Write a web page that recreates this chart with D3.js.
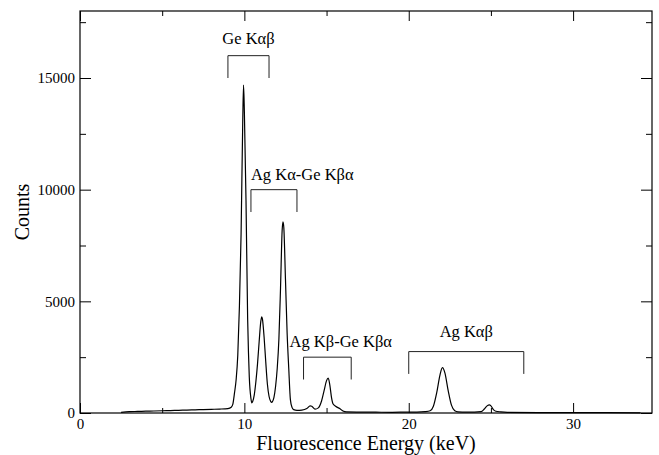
<!DOCTYPE html>
<html>
<head>
<meta charset="utf-8">
<script src="https://cdn.jsdelivr.net/npm/d3@7"></script>
<style>
  body { margin: 0; background: #fff; }
  svg { display: block; }
  svg text { font-family: "Liberation Serif", "Times New Roman", Times, "DejaVu Serif", serif; fill: #000; }
</style>
</head>
<body>
<svg width="659" height="455"></svg>
<script>
// spectrum (keV, counts)
const energy = [2.5, 3.0, 3.5, 4.0, 4.5, 5.0, 5.5, 6.0, 6.5, 7.0, 7.5, 8.0, 8.5, 9.0, 9.2, 9.3,
  9.4, 9.5, 9.6, 9.7, 9.8, 9.9, 9.95, 10.0, 10.1, 10.2, 10.25, 10.3, 10.4, 10.45,
  10.5, 10.6, 10.7, 10.8, 10.9, 11.0, 11.06, 11.1, 11.2, 11.3, 11.4, 11.5, 11.6, 11.67,
  11.7, 11.8, 11.9, 12.0, 12.1, 12.2, 12.3, 12.35, 12.4, 12.5, 12.6, 12.7, 12.8, 12.9, 13.0,
  13.2, 13.5, 13.8, 14.0, 14.1, 14.3, 14.5, 14.7, 14.85, 15.0, 15.1, 15.2, 15.3, 15.4, 15.55, 15.8, 16.0, 16.2,
  17.0, 18.0, 19.0, 20.0, 20.5, 21.0, 21.3, 21.5, 21.7, 21.9, 22.05, 22.2, 22.4, 22.6, 22.8, 23.0,
  23.5, 24.0, 24.4, 24.6, 24.8, 24.9, 25.0, 25.15, 25.3, 25.6, 26.0, 28.0, 30.0, 32.0, 34.1];
const counts = [30, 60, 70, 80, 90, 100, 110, 120, 130, 140, 155, 165, 175, 200, 260, 400,
  900, 1500, 2600, 4800, 8000, 13000, 14680, 13500, 9500, 4200, 2700, 1600, 650, 450,
  500, 800, 1400, 2200, 3200, 4100, 4310, 4200, 3400, 2300, 1300, 750, 520, 480,
  500, 700, 1200, 2000, 3300, 5600, 8200, 8560, 8300, 6000, 3600, 2000, 600, 250, 150,
  120, 130, 200, 320, 300, 170, 230, 550, 1000, 1450, 1560, 1250, 700, 400, 300, 200, 90, 50,
  40, 35, 30, 40, 40, 60, 100, 300, 900, 1700, 2030, 1800, 1000, 350, 100, 50,
  40, 40, 60, 180, 340, 360, 320, 150, 80, 50, 30, 20, 20, 15, 10];

const xMajor = [0, 10, 20, 30];
const xMinor = [5, 15, 25];
const yMajor = [0, 5000, 10000, 15000];
const yMinor = [2500, 7500, 12500, 17500];

// peak group labels with bracket spans (keV) and heights (counts)
const bracketLabels = ["Ge Kαβ", "Ag Kα-Ge Kβα", "Ag Kβ-Ge Kβα", "Ag Kαβ"];
const bracketFrom = [9.0, 10.4, 13.6, 20.0];
const bracketTo = [11.5, 13.2, 16.5, 27.0];
const bracketTop = [16000, 10000, 2500, 2750];
const bracketBottom = [15000, 9000, 1500, 1750];
const labelAnchor = ["middle", "start", "start", "middle"];
const labelAtE = [10.25, 10.4, 12.75, 23.5];
const labelAtC = [16520, 10430, 2950, 3400];

const serif = '"Liberation Serif", "Times New Roman", Times, "DejaVu Serif", serif';

const svg = d3.select("svg");
const m = { left: 80, right: 652, top: 11, bottom: 413 };

const x = d3.scaleLinear().domain([0, 34.8]).range([m.left, m.right]);
const y = d3.scaleLinear().domain([0, 18000]).range([m.bottom, m.top]);

// ticks, all pointing into the frame
function styleAxis(g) {
    g.attr("font-family", serif);
    g.select(".domain").remove();
    g.selectAll("line").attr("stroke", "#000");
    g.selectAll("text").style("font-size", "15px").style("font-family", serif);
}

svg.append("g").attr("transform", `translate(0,${m.bottom})`)
    .call(d3.axisBottom(x).tickValues(xMajor).tickSize(-10).tickPadding(5).tickFormat(d3.format("d")))
    .call(styleAxis);
svg.append("g").attr("transform", `translate(0,${m.bottom})`)
    .call(d3.axisBottom(x).tickValues(xMinor).tickSize(-5).tickFormat(""))
    .call(styleAxis);
svg.append("g").attr("transform", `translate(0,${m.top})`)
    .call(d3.axisTop(x).tickValues(xMajor).tickSize(-10).tickFormat(""))
    .call(styleAxis);
svg.append("g").attr("transform", `translate(0,${m.top})`)
    .call(d3.axisTop(x).tickValues(xMinor).tickSize(-5).tickFormat(""))
    .call(styleAxis);

svg.append("g").attr("transform", `translate(${m.left},0)`)
    .call(d3.axisLeft(y).tickValues(yMajor).tickSize(-11).tickPadding(5).tickFormat(d3.format("d")))
    .call(styleAxis);
svg.append("g").attr("transform", `translate(${m.left},0)`)
    .call(d3.axisLeft(y).tickValues(yMinor).tickSize(-6).tickFormat(""))
    .call(styleAxis);
svg.append("g").attr("transform", `translate(${m.right},0)`)
    .call(d3.axisRight(y).tickValues(yMajor).tickSize(-11).tickFormat(""))
    .call(styleAxis);
svg.append("g").attr("transform", `translate(${m.right},0)`)
    .call(d3.axisRight(y).tickValues(yMinor).tickSize(-6).tickFormat(""))
    .call(styleAxis);

// frame
svg.append("rect")
    .attr("x", m.left).attr("y", m.top)
    .attr("width", m.right - m.left).attr("height", m.bottom - m.top)
    .style("fill", "none")
    .style("stroke", "#000")
    .style("stroke-width", "1.2px");

// spectrum
const line = d3.line()
    .x((d, i) => x(energy[i]))
    .y(d => y(d))
    .curve(d3.curveMonotoneX);

svg.append("path")
    .datum(counts)
    .attr("d", line)
    .style("fill", "none")
    .style("stroke", "#000")
    .style("stroke-width", "1.2px");

// brackets
bracketLabels.forEach((lab, i) => {
    const x0 = x(bracketFrom[i]), x1 = x(bracketTo[i]);
    const yt = y(bracketTop[i]), yb = y(bracketBottom[i]);
    svg.append("path")
        .attr("d", `M${x0},${yb}V${yt}H${x1}V${yb}`)
        .style("fill", "none")
        .style("stroke", "#222")
        .style("stroke-width", "1px");
    svg.append("text")
        .attr("x", x(labelAtE[i]))
        .attr("y", y(labelAtC[i]))
        .attr("text-anchor", labelAnchor[i])
        .style("font-family", serif)
        .style("font-size", "16.5px")
        .text(lab);
});

// axis titles
svg.append("text")
    .attr("x", (m.left + m.right) / 2)
    .attr("y", 450)
    .attr("text-anchor", "middle")
    .style("font-family", serif)
    .style("font-size", "20px")
    .text("Fluorescence Energy (keV)");

svg.append("text")
    .attr("transform", `translate(29,${(m.top + m.bottom) / 2}) rotate(-90)`)
    .attr("text-anchor", "middle")
    .style("font-family", serif)
    .style("font-size", "20px")
    .text("Counts");
</script>
</body>
</html>
